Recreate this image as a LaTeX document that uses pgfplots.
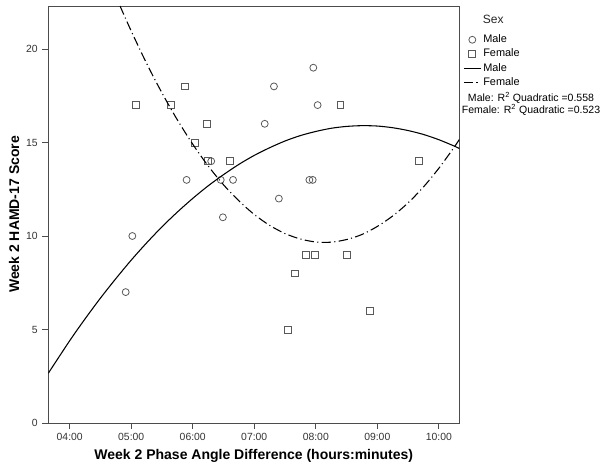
\documentclass[border=0pt]{standalone}
\usepackage{pgfplots}
\pgfplotsset{compat=1.18}
\usepackage{fontspec}
\setmainfont{Liberation Sans}
\begin{document}
\begin{tikzpicture}
\path[use as bounding box] (-36.225pt,-37.5pt) rectangle (416.775pt,317.25pt);
\begin{axis}[
  at={(0pt,0pt)}, anchor=south west,
  scale only axis, width=308.25pt, height=312.75pt,
  xmin=3.652, xmax=10.333, ymin=0, ymax=22.3,
  axis line style={black!70, line width=0.6pt},
  xtick={4,5,6,7,8,9,10},
  xticklabels={04:00,05:00,06:00,07:00,08:00,09:00,10:00},
  ytick={0,5,10,15,20},
  tick align=outside, tick pos=left,
  major tick length=4.5pt,
  tick style={black!70, line width=0.6pt},
  /pgf/number format/assume math mode=true,
  ticklabel style={font=\fontsize{7.8}{9}\selectfont, text=black!80},
  xlabel={\textbf{Week 2 Phase Angle Difference (hours:minutes)}},
  ylabel={\textbf{Week 2 HAMD-17 Score}},
  label style={font=\fontsize{10.5}{12}\selectfont},
  xlabel style={at={(axis description cs:0.5,-0.078)}, anchor=center},
  ylabel style={at={(axis description cs:-0.083,0.5)}, anchor=center},
  legend image code/.code={\draw[mark repeat=2,mark phase=2,#1] plot coordinates {(0pt,0pt) (6.4pt,0pt) (12.8pt,0pt)};},
  legend style={at={(axis description cs:1.009,0.936)}, anchor=north west, draw=none, fill=none,
    font=\fontsize{8.2}{9}\selectfont, inner sep=0pt, row sep=0.4pt,
    nodes={inner sep=1.4pt}},
  legend cell align=left,
  clip mode=individual,
]
\addplot[only marks, mark=o, mark size=2.6pt, mark options={draw=black!65, line width=0.6pt}] coordinates {
(5.90,13) (6.30,14) (6.455,13) (6.655,13) (7.32,18) (7.17,16) (7.40,12)
(7.96,19) (8.03,17) (7.896,13) (7.95,13) (5.018,10) (4.91,7) (6.49,11)
};
\addlegendentry{Male}
\addplot[only marks, mark=square, mark size=2.6pt, mark options={draw=black!65, line width=0.6pt}] coordinates {
(5.078,17) (5.647,17) (5.875,18) (6.04,15) (6.232,16) (6.244,14) (6.607,14)
(8.40,17) (9.68,14) (7.84,9) (7.98,9) (8.50,9) (7.66,8) (8.88,6) (7.545,5)
};
\addlegendentry{Female}
\addplot[black, line width=0.8pt, smooth, no marks] coordinates {
(3.652,2.66) (4.0,4.40) (4.25,5.57) (4.5,6.68) (4.75,7.72) (5.0,8.71) (5.25,9.63)
(5.5,10.49) (5.75,11.28) (6.0,12.01) (6.25,12.68) (6.5,13.28) (6.75,13.83)
(7.0,14.31) (7.25,14.72) (7.5,15.08) (7.75,15.37) (8.0,15.59) (8.25,15.76)
(8.5,15.86) (8.75,15.90) (9.0,15.88) (9.25,15.79) (9.5,15.64) (9.75,15.43)
(10.0,15.15) (10.25,14.81) (10.333,14.68)
};
\addlegendentry{Male}
\addplot[black, line width=0.8pt, smooth, no marks, dash pattern=on 7pt off 2.5pt on 0.8pt off 2.5pt] coordinates {
(4.818,22.30) (5.0,20.96) (5.25,19.23) (5.5,17.65) (5.75,16.21) (6.0,14.91)
(6.25,13.75) (6.5,12.74) (6.75,11.88) (7.0,11.15) (7.25,10.57) (7.5,10.13)
(7.75,9.84) (8.0,9.68) (8.25,9.67) (8.5,9.81) (8.75,10.08) (9.0,10.51)
(9.25,11.07) (9.5,11.77) (9.75,12.62) (10.0,13.62) (10.25,14.75) (10.333,15.16)
};
\addlegendentry{Female}
\node[anchor=west, font=\fontsize{9}{10}\selectfont, text=black!85] at (axis description cs:1.046,0.969) {Sex};
\node[anchor=center, font=\fontsize{7.9}{9}\selectfont] at (axis description cs:1.1745,0.78) {Male: R\textsuperscript{2} Quadratic =0.558};
\node[anchor=center, font=\fontsize{7.9}{9}\selectfont] at (axis description cs:1.1745,0.75) {Female: R\textsuperscript{2} Quadratic =0.523};
\end{axis}
\end{tikzpicture}
\end{document}
